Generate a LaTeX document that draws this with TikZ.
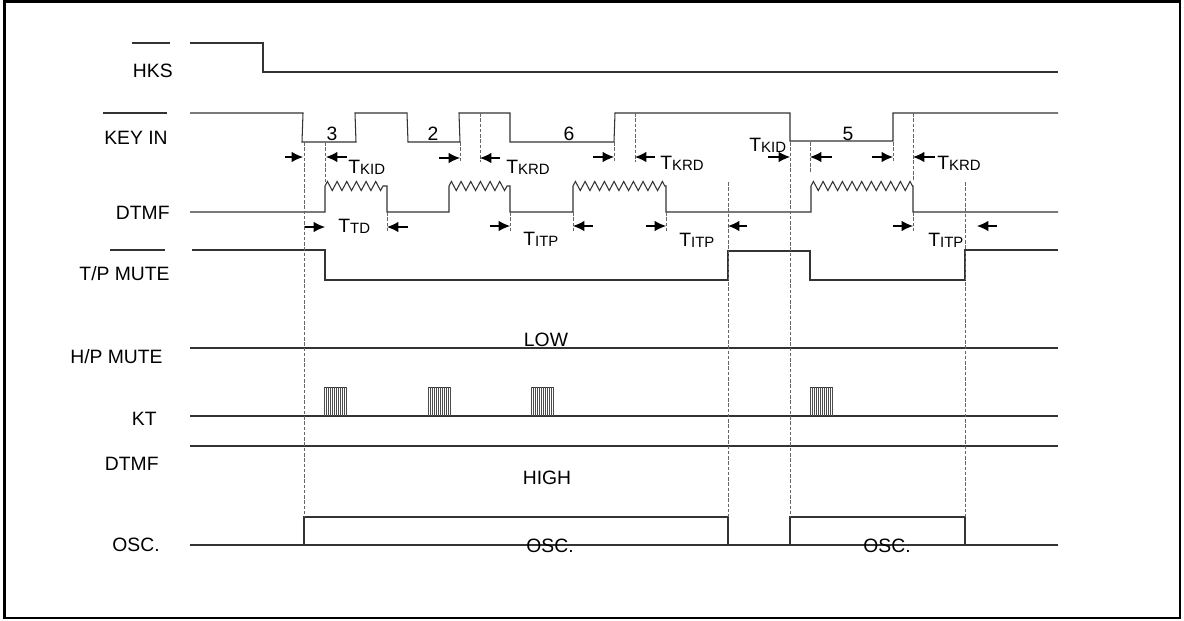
\documentclass[tikz,border=0pt]{standalone}
\usepackage{fontspec}
\setmainfont{Liberation Sans}
\usetikzlibrary{arrows.meta}
\usetikzlibrary{decorations.pathmorphing}
\newcommand{\subfont}{\fontsize{8.5}{8.5}\selectfont}
\newcommand{\tpar}[1]{T\raisebox{-1pt}{\subfont #1}}

\begin{document}
\begin{tikzpicture}[x=0.02cm,y=-0.02cm,>={Latex[length=6.5pt,width=6pt]},
    font=\fontsize{11}{13}\selectfont,
    sig/.style={line width=0.6pt,color=black!80},
    guide/.style={line width=0.4pt,color=black!60,dash pattern=on 2pt off 1pt},
    dim arrow/.style={->,line width=0.6pt},
    sig label/.style={anchor=base east,inner sep=0pt},
    val label/.style={anchor=base,inner sep=0pt},
    par label/.style={anchor=base west,inner sep=0pt},
    tone/.style={decoration={zigzag,segment length=5.5pt,amplitude=2.6pt}}]
   \useasboundingbox (0,0) rectangle (1184,620);
   \draw[line width=1.5pt] (4.5,1.5) rectangle (1180,618);

   % signal names
   \node[sig label] (hks) at (173,77) {HKS};
   \node[sig label] (keyin) at (168,144) {KEY IN};
   \node[sig label] (dtmf) at (170,219) {DTMF};
   \node[sig label] (tpmute) at (170,280) {T/P MUTE};
   \node[sig label] (hpmute) at (163,363) {H/P MUTE};
   \node[sig label] (kt) at (157,425) {KT};
   \node[sig label] (dtmfh) at (159,470) {DTMF};
   \node[sig label] (osc) at (160,551) {OSC.};
   \draw[sig] (132,43) -- (170,43);
   \draw[sig] (103,113) -- (167,113);
   \draw[sig] (110,250) -- (165,250);

   % waveforms
   \draw[sig] (190,43) -- (263,43) -- (263,72) -- (1058,72);
   \draw[sig] (190,113) -- (303,113) -- (302,142) -- (356,142) -- (355,113) -- (407,113)
      -- (408,142) -- (460,142) -- (459,113) -- (510,113) -- (510,142) -- (614,142)
      -- (615,113) -- (790,113) -- (790,141) -- (893,141) -- (893,113) -- (1058,113);
   \draw[sig] (190,212) -- (325,212) -- (325,186) decorate[tone] {-- (387,186)}
      -- (387,212) -- (449,212) -- (449,186) decorate[tone] {-- (510,186)}
      -- (510,212) -- (573,212) -- (573,186) decorate[tone] {-- (666,186)}
      -- (666,212) -- (811,212) -- (811,186) decorate[tone] {-- (913,186)}
      -- (913,212) -- (1058,212);
   \draw[sig] (192,250) -- (325,250) -- (325,280) -- (728,280) -- (728,251) -- (810,251)
      -- (810,280) -- (965,280) -- (965,250) -- (1058,250);
   \draw[sig] (190,348) -- (1058,348);
   \draw[sig] (190,416) -- (1058,416);
   \foreach \s in {324,428,531,810} {
      \draw[sig,line width=0.4pt] (\s,387) -- (\s+22,387);
      \foreach \k in {0,2,...,22}
         \draw[line width=0.35pt,color=black!70] (\s+\k,387) -- (\s+\k,416);
   }
   \draw[sig] (190,446) -- (1058,446);
   \draw[sig] (190,545) -- (1058,545);
   \draw[sig] (304,545) -- (304,517) -- (728,517) -- (728,545);
   \draw[sig] (790,545) -- (790,517) -- (965,517) -- (965,545);

   % guides and timing arrows
   \foreach \x/\ya/\yb in {304/142/517, 325/142/183, 387/212/233, 460/142/162, 480/113/162,
      510/212/232, 573/212/232, 614/142/162, 635/113/162, 666/212/232, 728/182/517,
      790/142/517, 810/142/172, 893/142/162, 913/113/180, 913/212/232, 965/182/517}
      \draw[guide] (\x,\ya) -- (\x,\yb);
   \foreach \a/\b/\y in {285/303/157, 347/326/157, 439/460/158, 500/480/158, 593/614/157,
      655/635/157, 768/790/157, 832/810/157, 872/893/157, 935/913/157,
      305/325/227, 408/387/227, 490/510/226, 593/573/226, 646/666/226, 747/728/226,
      893/913/226, 997/977/226}
      \draw[dim arrow] (\a,\y) -- (\b,\y);

   % keys and values
   \node[val label] (k3) at (332,140) {3};
   \node[val label] (k2) at (433,140) {2};
   \node[val label] (k6) at (569,140) {6};
   \node[val label] (k5) at (848,140) {5};
   \node[val label] (low) at (546,346) {LOW};
   \node[val label] (high) at (547,484) {HIGH};
   \node[val label] (osca) at (550,552) {OSC.};
   \node[val label] (oscb) at (887,552) {OSC.};

   % timing names
   \node[par label] (kida) at (348,173) {\tpar{KID}};
   \node[par label] (td) at (338,232) {\tpar{TD}};
   \node[par label] (krda) at (506,173) {\tpar{KRD}};
   \node[par label] (itpa) at (523,245) {\tpar{ITP}};
   \node[par label] (krdb) at (660,169) {\tpar{KRD}};
   \node[par label] (itpb) at (679,246) {\tpar{ITP}};
   \node[par label] (kidb) at (749,151) {\tpar{KID}};
   \node[par label] (krdc) at (937,169) {\tpar{KRD}};
   \node[par label] (itpc) at (928,246) {\tpar{ITP}};
\end{tikzpicture}
\end{document}
